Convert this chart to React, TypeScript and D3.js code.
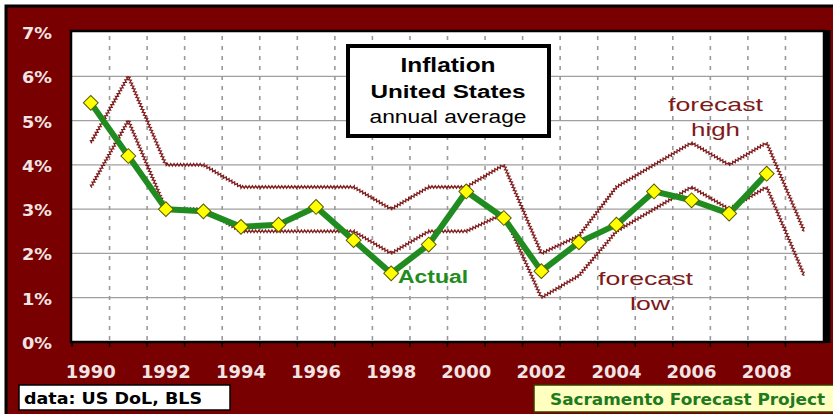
import React, { useEffect, useRef } from "react";
import * as d3 from "d3";

// data
const years = [1990, 1991, 1992, 1993, 1994, 1995, 1996, 1997, 1998, 1999, 2000, 2001, 2002, 2003, 2004, 2005, 2006, 2007, 2008, 2009];
const actual = [5.4, 4.2, 3.0, 2.95, 2.6, 2.65, 3.05, 2.3, 1.55, 2.2, 3.4, 2.8, 1.6, 2.25, 2.65, 3.4, 3.2, 2.9, 3.8];
const forecastHigh = [4.5, 6.0, 4.0, 4.0, 3.5, 3.5, 3.5, 3.5, 3.0, 3.5, 3.5, 4.0, 2.0, 2.4, 3.5, 4.0, 4.5, 4.0, 4.5, 2.5];
const forecastLow = [3.5, 5.0, 3.0, 3.0, 2.5, 2.5, 2.5, 2.5, 2.0, 2.5, 2.5, 2.9, 1.0, 1.5, 2.5, 3.0, 3.5, 3.0, 3.5, 1.5];
const yTicks = [0, 1, 2, 3, 4, 5, 6, 7];
const xLabels = [1990, 1992, 1994, 1996, 1998, 2000, 2002, 2004, 2006, 2008];

const MAROON = "#780000";
const FC = "#7e1a1a";
const GREEN = "#208c20";

// turns a polyline into a small zigzag "rope"
const zigzag = (pts, amp = 1.4, step = 1.6) => {
  const out = [];
  let flip = 1;
  for (let i = 0; i < pts.length - 1; i++) {
    const [x0, y0] = pts[i];
    const [x1, y1] = pts[i + 1];
    const len = Math.hypot(x1 - x0, y1 - y0);
    const nx = -(y1 - y0) / len;
    const ny = (x1 - x0) / len;
    const n = Math.max(1, Math.round(len / step));
    for (let k = 0; k < n; k++) {
      const t = k / n;
      out.push([x0 + (x1 - x0) * t + nx * amp * flip, y0 + (y1 - y0) * t + ny * amp * flip]);
      flip = -flip;
    }
  }
  out.push(pts[pts.length - 1]);
  return d3.line()(out);
};

const App = () => {
  const ref = useRef();

  useEffect(() => {
    const svg = d3.select(ref.current);
    svg.selectAll("*").remove();

    const margin = { top: 32, left: 72, right: 10, bottom: 72 };
    const W = 833;
    const H = 414;

    const x = d3.scaleBand().domain(years).range([margin.left, W - margin.right]);
    const cx = (yr) => x(yr) + x.bandwidth() / 2;
    const y = d3.scaleLinear().domain([0, 7]).range([H - margin.bottom, margin.top]);

    // frame
    svg.append("rect").attr("width", W).attr("height", H).attr("fill", "#fff");
    svg.append("rect").attr("x", 6).attr("y", 6).attr("width", W).attr("height", H)
      .attr("fill", MAROON).attr("stroke", "#000").attr("stroke-width", 3);

    // plot area
    svg.append("rect").attr("x", margin.left).attr("y", margin.top)
      .attr("width", W - margin.right - margin.left).attr("height", y(0) - margin.top)
      .attr("fill", "#fff");

    // horizontal grid
    svg.append("g").selectAll("line").data(yTicks.slice(1, -1)).join("line")
      .attr("x1", margin.left).attr("x2", W - margin.right)
      .attr("y1", (d) => y(d)).attr("y2", (d) => y(d))
      .attr("stroke", "#a0a0a0").attr("stroke-width", 1.3);

    // vertical dashed grid
    svg.append("g").selectAll("line").data(years.slice(1)).join("line")
      .attr("x1", (d) => x(d)).attr("x2", (d) => x(d))
      .attr("y1", margin.top + 4).attr("y2", y(0))
      .attr("stroke", "#999").attr("stroke-width", 1.6)
      .attr("stroke-dasharray", "4,6");

    // plot border
    svg.append("rect").attr("x", margin.left - 1).attr("y", margin.top - 1)
      .attr("width", W - margin.right - margin.left + 2).attr("height", y(0) - margin.top + 1)
      .attr("fill", "none").attr("stroke", "#000").attr("stroke-width", 2.5);
    svg.append("line").attr("x1", W - margin.right + 4).attr("x2", W - margin.right + 4)
      .attr("y1", margin.top - 2).attr("y2", y(0) + 1)
      .attr("stroke", "#000").attr("stroke-width", 7);

    // x ticks
    svg.append("g").selectAll("line").data(years).join("line")
      .attr("x1", (d) => x(d)).attr("x2", (d) => x(d))
      .attr("y1", y(0)).attr("y2", y(0) + 5)
      .attr("stroke", "#000").attr("stroke-width", 1.5);

    // y labels
    svg.append("g").selectAll("text").data(yTicks).join("text")
      .attr("x", 22).attr("y", (d) => y(d) + 7)
      .attr("textLength", 30).attr("lengthAdjust", "spacingAndGlyphs")
      .attr("font-family", "DejaVu Sans, sans-serif").attr("font-weight", "bold")
      .attr("font-size", 16).attr("fill", "#f2e4e4")
      .text((d) => `${d}%`);

    // x labels
    svg.append("g").selectAll("text").data(xLabels).join("text")
      .attr("x", (d) => cx(d) - 25).attr("y", y(0) + 36)
      .attr("textLength", 50).attr("lengthAdjust", "spacingAndGlyphs")
      .attr("font-family", "DejaVu Sans, sans-serif").attr("font-weight", "bold")
      .attr("font-size", 17).attr("fill", "#f2e4e4")
      .text((d) => d);

    // forecast lines
    const hiPts = forecastHigh.map((v, i) => [cx(years[i]), y(v)]);
    const loPts = forecastLow.map((v, i) => [cx(years[i]), y(v)]);
    [hiPts, loPts].forEach((pts) => {
      svg.append("path").attr("d", d3.line()(pts)).attr("fill", "none")
        .attr("stroke", FC).attr("stroke-width", 0.7);
      svg.append("path").attr("d", zigzag(pts)).attr("fill", "none")
        .attr("stroke", FC).attr("stroke-width", 1.1);
    });

    // actual
    const line = d3.line().x((d, i) => cx(years[i])).y((d) => y(d));
    svg.append("path").attr("d", line(actual)).attr("fill", "none")
      .attr("stroke", GREEN).attr("stroke-width", 6).attr("stroke-linejoin", "round");
    svg.append("g").selectAll("path").data(actual).join("path")
      .attr("d", d3.symbol(d3.symbolSquare, 110)())
      .attr("transform", (d, i) => `translate(${cx(years[i])},${y(d)}) rotate(45)`)
      .attr("fill", "#ffff00").attr("stroke", "#5a5a00").attr("stroke-width", 1);

    // title box
    svg.append("rect").attr("x", 348).attr("y", 46).attr("width", 201).attr("height", 90)
      .attr("fill", "#fff").attr("stroke", "#000").attr("stroke-width", 4);
    const title = svg.append("g").attr("font-family", "Liberation Sans, Arial, sans-serif")
      .attr("text-anchor", "middle").attr("fill", "#000");
    title.append("text").attr("x", 448).attr("y", 72).attr("font-size", 20).attr("font-weight", "bold")
      .attr("textLength", 95).attr("lengthAdjust", "spacingAndGlyphs").text("Inflation");
    title.append("text").attr("x", 448).attr("y", 98).attr("font-size", 18).attr("font-weight", "bold")
      .attr("textLength", 155).attr("lengthAdjust", "spacingAndGlyphs").text("United States");
    title.append("text").attr("x", 448).attr("y", 123).attr("font-size", 18)
      .attr("textLength", 157).attr("lengthAdjust", "spacingAndGlyphs").text("annual average");

    // annotations
    const ann = svg.append("g").attr("font-family", "Liberation Sans, Arial, sans-serif");
    ann.append("text").attr("x", 398).attr("y", 283).attr("font-size", 18).attr("font-weight", "bold")
      .attr("fill", GREEN).attr("textLength", 70).attr("lengthAdjust", "spacingAndGlyphs").text("Actual");
    ann.append("text").attr("x", 668).attr("y", 111).attr("font-size", 19).attr("fill", FC)
      .attr("textLength", 95).attr("lengthAdjust", "spacingAndGlyphs").text("forecast");
    ann.append("text").attr("x", 691).attr("y", 136).attr("font-size", 19).attr("fill", FC)
      .attr("textLength", 49).attr("lengthAdjust", "spacingAndGlyphs").text("high");
    ann.append("text").attr("x", 598).attr("y", 285).attr("font-size", 19).attr("fill", FC)
      .attr("textLength", 95).attr("lengthAdjust", "spacingAndGlyphs").text("forecast");
    ann.append("text").attr("x", 630).attr("y", 310).attr("font-size", 19).attr("fill", FC)
      .attr("textLength", 40).attr("lengthAdjust", "spacingAndGlyphs").text("low");

    // source boxes
    svg.append("rect").attr("x", 19).attr("y", 385).attr("width", 211).attr("height", 25)
      .attr("fill", "#fff").attr("stroke", "#000").attr("stroke-width", 1.5);
    svg.append("text").attr("x", 24).attr("y", 404).attr("font-family", "DejaVu Sans, sans-serif")
      .attr("font-weight", "bold").attr("font-size", 16).attr("fill", "#000")
      .attr("textLength", 178).attr("lengthAdjust", "spacingAndGlyphs").text("data: US DoL, BLS");
    svg.append("rect").attr("x", 534).attr("y", 385).attr("width", 300).attr("height", 27)
      .attr("fill", "#ffffbf").attr("stroke", "#3a3a00").attr("stroke-width", 1.5);
    svg.append("text").attr("x", 550).attr("y", 405).attr("font-family", "DejaVu Sans, sans-serif")
      .attr("font-weight", "bold").attr("font-size", 16).attr("fill", "#1e7a1e")
      .attr("textLength", 275).attr("lengthAdjust", "spacingAndGlyphs").text("Sacramento Forecast Project");
  }, []);

  return (
    <svg ref={ref} width={833} height={414} style={{ position: "absolute", left: 0, top: 0 }} />
  );
};

export default App;
